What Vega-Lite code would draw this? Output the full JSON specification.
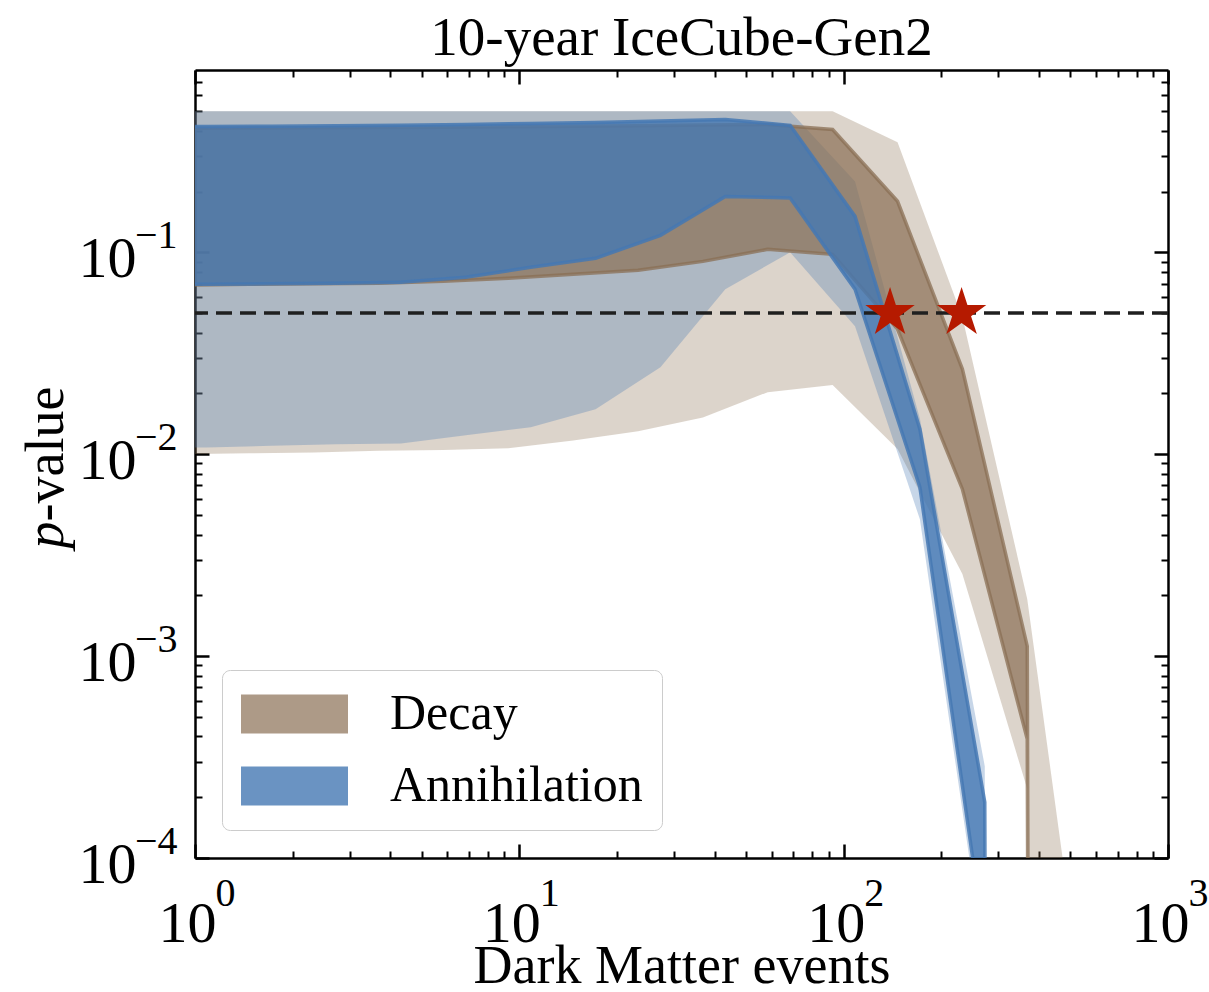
{
  "$schema": "https://vega.github.io/schema/vega-lite/v6.json",
  "width": 973,
  "height": 788,
  "autosize": {"type": "none"},
  "padding": {"left": 195, "top": 70, "right": 41, "bottom": 134},
  "background": "white",
  "config": {
    "view": {"stroke": null},
    "font": "Liberation Serif",
    "axis": {"grid": false, "labelFlush": false, "labelOverlap": false, "labelColor": "black", "titleColor": "black", "tickColor": "black", "domainColor": "black", "labelFont": "Liberation Serif", "titleFont": "Liberation Serif", "titleFontWeight": "normal", "zindex": 1}
  },
  "title": {"text": "10-year IceCube-Gen2", "font": "Liberation Serif", "fontSize": 55, "fontWeight": "normal", "color": "black", "anchor": "middle", "frame": "group", "baseline": "alphabetic", "offset": 13, "dy": 54},
  "datasets": {
    "decay": [
      {"x": 0.925, "olo": 0.01, "ohi": 0.5, "ilo": 0.0688, "ihi": 0.412},
      {"x": 1.466, "olo": 0.0101, "ohi": 0.5, "ilo": 0.0695, "ihi": 0.413},
      {"x": 2.323, "olo": 0.0102, "ohi": 0.5, "ilo": 0.0698, "ihi": 0.414},
      {"x": 3.681, "olo": 0.0104, "ohi": 0.5, "ilo": 0.0702, "ihi": 0.415},
      {"x": 5.834, "olo": 0.0105, "ohi": 0.5, "ilo": 0.0719, "ihi": 0.417},
      {"x": 9.247, "olo": 0.0107, "ohi": 0.5, "ilo": 0.0743, "ihi": 0.419},
      {"x": 14.66, "olo": 0.0117, "ohi": 0.5, "ilo": 0.0778, "ihi": 0.421},
      {"x": 23.23, "olo": 0.013, "ohi": 0.5, "ilo": 0.0815, "ihi": 0.424},
      {"x": 36.81, "olo": 0.0152, "ohi": 0.5, "ilo": 0.0902, "ihi": 0.427},
      {"x": 58.34, "olo": 0.0203, "ohi": 0.5, "ilo": 0.1035, "ihi": 0.43},
      {"x": 92.47, "olo": 0.022, "ohi": 0.5, "ilo": 0.0977, "ihi": 0.406},
      {"x": 146.6, "olo": 0.0106, "ohi": 0.351, "ilo": 0.0416, "ihi": 0.179},
      {"x": 232.3, "olo": 0.00255, "ohi": 0.0477, "ilo": 0.00671, "ihi": 0.0264},
      {"x": 368.1, "olo": 0.00022, "ohi": 0.00192, "ilo": 0.000388, "ihi": 0.00112},
      {"x": 583.4, "olo": 1e-100, "ohi": 0.0000085, "ilo": 1e-100, "ihi": 1e-100}
    ],
    "ann": [
      {"x": 0.684, "olo": 0.0108, "ohi": 0.5, "ilo": 0.0695, "ihi": 0.42},
      {"x": 1.084, "olo": 0.0108, "ohi": 0.5, "ilo": 0.0695, "ihi": 0.42},
      {"x": 1.718, "olo": 0.011, "ohi": 0.5, "ilo": 0.0698, "ihi": 0.421},
      {"x": 2.723, "olo": 0.0112, "ohi": 0.5, "ilo": 0.0702, "ihi": 0.423},
      {"x": 4.315, "olo": 0.0113, "ohi": 0.5, "ilo": 0.071, "ihi": 0.426},
      {"x": 6.839, "olo": 0.0124, "ohi": 0.5, "ilo": 0.0752, "ihi": 0.43},
      {"x": 10.84, "olo": 0.0136, "ohi": 0.5, "ilo": 0.0843, "ihi": 0.435},
      {"x": 17.18, "olo": 0.0167, "ohi": 0.5, "ilo": 0.0934, "ihi": 0.44},
      {"x": 27.23, "olo": 0.027, "ohi": 0.5, "ilo": 0.1214, "ihi": 0.447},
      {"x": 43.15, "olo": 0.0656, "ohi": 0.5, "ilo": 0.189, "ihi": 0.455},
      {"x": 68.39, "olo": 0.1, "ohi": 0.5, "ilo": 0.186, "ihi": 0.4255},
      {"x": 108.4, "olo": 0.043, "ohi": 0.2246, "ilo": 0.0656, "ihi": 0.1507},
      {"x": 171.8, "olo": 0.00476, "ohi": 0.015, "ilo": 0.00687, "ihi": 0.0133},
      {"x": 272.3, "olo": 0.00003, "ohi": 0.000285, "ilo": 0.000038, "ihi": 0.000189},
      {"x": 431.5, "olo": 1e-100, "ohi": 1e-100, "ilo": 1e-100, "ihi": 1e-100}
    ],
    "stars": [
      {"x": 139, "p": 0.05},
      {"x": 231, "p": 0.05}
    ],
    "threshold": [
      {"p": 0.05}
    ],
    "kinds": [
      {"kind": "Decay"},
      {"kind": "Annihilation"}
    ]
  },
  "resolve": {"axis": {"x": "independent", "y": "independent"}},
  "layer": [
    {
      "data": {"name": "decay"},
      "mark": {"type": "area", "clip": true, "color": "#8a6f54", "opacity": 0.3},
      "encoding": {
        "x": {"field": "x", "type": "quantitative", "scale": {"type": "log", "domain": [1, 1000], "nice": false},
          "axis": {"orient": "bottom", "values": [1, 10, 100, 1000], "labelExpr": "'10'", "tickSize": -14, "tickWidth": 2.5, "domain": true, "domainWidth": 2.5, "labelFontSize": 58, "labelBaseline": "alphabetic", "labelPadding": 97, "labelOffset": -8, "labelAlign": "center", "title": "Dark Matter events", "titleFontSize": 54, "titleX": 486.5, "titleY": 124, "titleBaseline": "alphabetic", "titleAlign": "center", "titleAngle": 0}},
        "y": {"field": "olo", "type": "quantitative", "scale": {"type": "log", "domain": [0.0001, 0.8], "nice": false},
          "axis": {"orient": "left", "values": [0.0001, 0.001, 0.01, 0.1], "labelExpr": "'10'", "tickSize": -14, "tickWidth": 2.5, "domain": true, "domainWidth": 2.5, "labelFontSize": 58, "labelAlign": "right", "labelBaseline": "alphabetic", "labelOffset": 24, "labelPadding": 73, "title": "p", "titleFontStyle": "italic", "titleFontSize": 54, "titleAngle": -90, "titleX": -133, "titleY": 478, "titleAlign": "left", "titleBaseline": "alphabetic"}},
        "y2": {"field": "ohi"}
      }
    },
    {
      "data": {"name": "ann"},
      "mark": {"type": "area", "clip": true, "color": "#4578b3", "opacity": 0.3},
      "encoding": {
        "x": {"field": "x", "type": "quantitative", "scale": {"type": "log", "domain": [1, 1000], "nice": false},
          "axis": {"orient": "bottom", "values": [1, 10, 100, 1000], "labelExpr": "toString(round(log(datum.value)/LN10))", "ticks": false, "domain": false, "labelFontSize": 40, "labelBaseline": "alphabetic", "labelPadding": 47, "labelOffset": 30, "labelAlign": "center", "title": null}},
        "y": {"field": "olo", "type": "quantitative", "scale": {"type": "log", "domain": [0.0001, 0.8], "nice": false},
          "axis": {"orient": "left", "values": [0.0001, 0.001, 0.01, 0.1], "labelExpr": "'\u2212' + toString(round(-log(datum.value)/LN10))", "ticks": false, "domain": false, "labelFontSize": 40, "labelAlign": "right", "labelBaseline": "alphabetic", "labelOffset": -5, "labelPadding": 18, "title": "-value", "titleFontSize": 54, "titleAngle": -90, "titleX": -133, "titleY": 451, "titleAlign": "left", "titleBaseline": "alphabetic"}},
        "y2": {"field": "ohi"}
      }
    },
    {
      "data": {"name": "decay"},
      "mark": {"type": "area", "clip": true, "fill": "#8a6f54", "fillOpacity": 0.7, "stroke": "#8a6f54", "strokeOpacity": 0.75, "strokeWidth": 3.5},
      "encoding": {
        "x": {"field": "x", "type": "quantitative", "scale": {"type": "log", "domain": [1, 1000], "nice": false},
          "axis": {"orient": "bottom", "values": [2, 3, 4, 5, 6, 7, 8, 9, 20, 30, 40, 50, 60, 70, 80, 90, 200, 300, 400, 500, 600, 700, 800, 900], "labels": false, "tickSize": -7, "tickWidth": 2, "domain": false, "title": null}},
        "y": {"field": "ilo", "type": "quantitative", "scale": {"type": "log", "domain": [0.0001, 0.8], "nice": false},
          "axis": {"orient": "left", "values": [0.0002, 0.0003, 0.0004, 0.0005, 0.0006, 0.0007, 0.0008, 0.0009, 0.002, 0.003, 0.004, 0.005, 0.006, 0.007, 0.008, 0.009, 0.02, 0.03, 0.04, 0.05, 0.06, 0.07, 0.08, 0.09, 0.2, 0.3, 0.4, 0.5, 0.6, 0.7], "labels": false, "tickSize": -7, "tickWidth": 2, "domain": false, "title": null}},
        "y2": {"field": "ihi"}
      }
    },
    {
      "data": {"name": "ann"},
      "mark": {"type": "area", "clip": true, "fill": "#4578b3", "fillOpacity": 0.8, "stroke": "#4578b3", "strokeOpacity": 0.85, "strokeWidth": 3.5},
      "encoding": {
        "x": {"field": "x", "type": "quantitative", "scale": {"type": "log", "domain": [1, 1000], "nice": false},
          "axis": {"orient": "top", "values": [1, 10, 100, 1000], "labels": false, "tickSize": -14, "tickWidth": 2.5, "domain": true, "domainWidth": 2.5, "title": null}},
        "y": {"field": "ilo", "type": "quantitative", "scale": {"type": "log", "domain": [0.0001, 0.8], "nice": false},
          "axis": {"orient": "right", "values": [0.0001, 0.001, 0.01, 0.1], "labels": false, "tickSize": -14, "tickWidth": 2.5, "domain": true, "domainWidth": 2.5, "title": null}},
        "y2": {"field": "ihi"}
      }
    },
    {
      "data": {"name": "threshold"},
      "mark": {"type": "rule", "strokeDash": [16, 8], "strokeWidth": 3.5, "color": "#1f1f1f"},
      "encoding": {
        "y": {"field": "p", "type": "quantitative", "scale": {"type": "log", "domain": [0.0001, 0.8], "nice": false},
          "axis": {"orient": "right", "values": [0.0002, 0.0003, 0.0004, 0.0005, 0.0006, 0.0007, 0.0008, 0.0009, 0.002, 0.003, 0.004, 0.005, 0.006, 0.007, 0.008, 0.009, 0.02, 0.03, 0.04, 0.05, 0.06, 0.07, 0.08, 0.09, 0.2, 0.3, 0.4, 0.5, 0.6, 0.7], "labels": false, "tickSize": -7, "tickWidth": 2, "domain": false, "title": null}}
      }
    },
    {
      "data": {"name": "stars"},
      "mark": {"type": "point", "shape": "M0,-1L0.2245,-0.309L0.9511,-0.309L0.3633,0.118L0.5878,0.809L0,0.382L-0.5878,0.809L-0.3633,0.118L-0.9511,-0.309L-0.2245,-0.309Z", "filled": true, "size": 2700, "color": "#b51a00", "opacity": 1, "strokeWidth": 0},
      "encoding": {
        "x": {"field": "x", "type": "quantitative", "scale": {"type": "log", "domain": [1, 1000], "nice": false},
          "axis": {"orient": "top", "values": [2, 3, 4, 5, 6, 7, 8, 9, 20, 30, 40, 50, 60, 70, 80, 90, 200, 300, 400, 500, 600, 700, 800, 900], "labels": false, "tickSize": -7, "tickWidth": 2, "domain": false, "title": null}},
        "y": {"field": "p", "type": "quantitative", "scale": {"type": "log", "domain": [0.0001, 0.8], "nice": false}, "axis": null}
      }
    },
    {
      "data": {"name": "kinds"},
      "mark": {"type": "point", "filled": true, "opacity": 0},
      "encoding": {
        "color": {"field": "kind", "type": "nominal", "scale": {"domain": ["Decay", "Annihilation"], "range": ["#ad9a87", "#6a93c2"]},
          "legend": {"orient": "none", "legendX": 27, "legendY": 600, "title": null, "symbolType": "M-1.25,-0.975H4.1V0.975H-1.25Z", "symbolSize": 1600, "symbolStrokeWidth": 0, "symbolOpacity": 1, "labelFont": "Liberation Serif", "labelFontSize": 50, "labelBaseline": "middle", "labelOffset": 99, "rowPadding": 22, "padding": 19, "fillColor": "white", "strokeColor": "#cccccc", "cornerRadius": 8, "labelColor": "black", "labelLimit": 500}}
      }
    }
  ]
}
